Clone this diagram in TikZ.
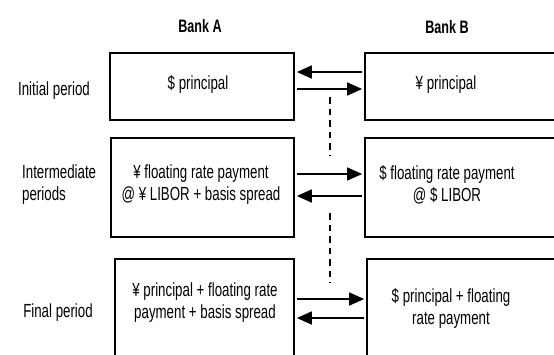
\documentclass[tikz,border=0pt]{standalone}
\usepackage{fontspec}
\setmainfont{Liberation Sans}[FakeStretch=0.7]
\usetikzlibrary{arrows.meta}

\begin{document}
\begin{tikzpicture}[x=1pt,y=-1pt,
  box/.style={draw,line width=1.7pt,inner sep=0pt},
  txt/.style={font=\fontsize{19}{22}\selectfont,align=center,inner sep=0pt},
  head/.style={txt,font=\fontsize{18}{22}\selectfont\bfseries},
  flow/.style={-{Triangle[length=15pt,width=13pt]},line width=1.6pt,shorten <=2pt,shorten >=2pt},
  gapline/.style={line width=1.3pt,dash pattern=on 6.5pt off 5pt}]
\useasboundingbox (0,0) rectangle (554,354);
\clip (0,0) rectangle (554,354);

\node[head,anchor=base] (hA) at (200,32) {Bank A};
\node[head,anchor=base] (hB) at (447,33) {Bank B};

\node[txt,anchor=base] (p1) at (54,95) {Initial period};
\node[txt,align=left,anchor=west] (p2) at (22,184.5) {Intermediate\\periods};
\node[txt,anchor=base] (p3) at (58,317) {Final period};

\node[box,minimum width=184pt,minimum height=67pt] (a1) at (202,86.5) {};
\node[box,minimum width=235pt,minimum height=67pt] (b1) at (482.5,86.5) {};
\node[box,minimum width=183pt,minimum height=99pt] (a2) at (202.5,187.5) {};
\node[box,minimum width=235pt,minimum height=99pt] (b2) at (482.5,187.5) {};
\node[box,minimum width=179pt,minimum height=141pt] (a3) at (204.5,329.5) {};
\node[box,minimum width=233pt,minimum height=141pt] (b3) at (483.5,329.5) {};

\node[txt,anchor=base] (ta1) at (198,89) {\$ principal};
\node[txt,anchor=base] (tb1) at (446,89) {¥ principal};
\node[txt] (ta2) at (201,184.5) {¥ floating rate payment\\@ ¥ LIBOR + basis spread};
\node[txt] (tb2) at (447,184.5) {\$ floating rate payment\\@ \$ LIBOR};
\node[txt] (ta3) at (205,303) {¥ principal + floating rate\\payment + basis spread};
\node[txt] (tb3) at (451,308) {\$ principal + floating\\rate payment};

\draw[flow] ([yshift=14.5pt]b1.west) -- ([yshift=14.5pt]a1.east);
\draw[flow] ([yshift=-2.5pt]a1.east) -- ([yshift=-2.5pt]b1.west);
\draw[flow] ([yshift=13.5pt]a2.east) -- ([yshift=13.5pt]b2.west);
\draw[flow] ([yshift=-8.5pt]b2.west) -- ([yshift=-8.5pt]a2.east);
\draw[flow] ([yshift=30.5pt]a3.east) -- ([yshift=30.5pt]b3.west);
\draw[flow] ([yshift=11.5pt]b3.west) -- ([yshift=11.5pt]a3.east);

\coordinate (d1) at (330,97);
\coordinate (d2) at (330,155);
\coordinate (d3) at (330,213);
\coordinate (d4) at (330,283);
\draw[gapline] (d1) -- (d2) (d3) -- (d4);

\end{tikzpicture}
\end{document}
